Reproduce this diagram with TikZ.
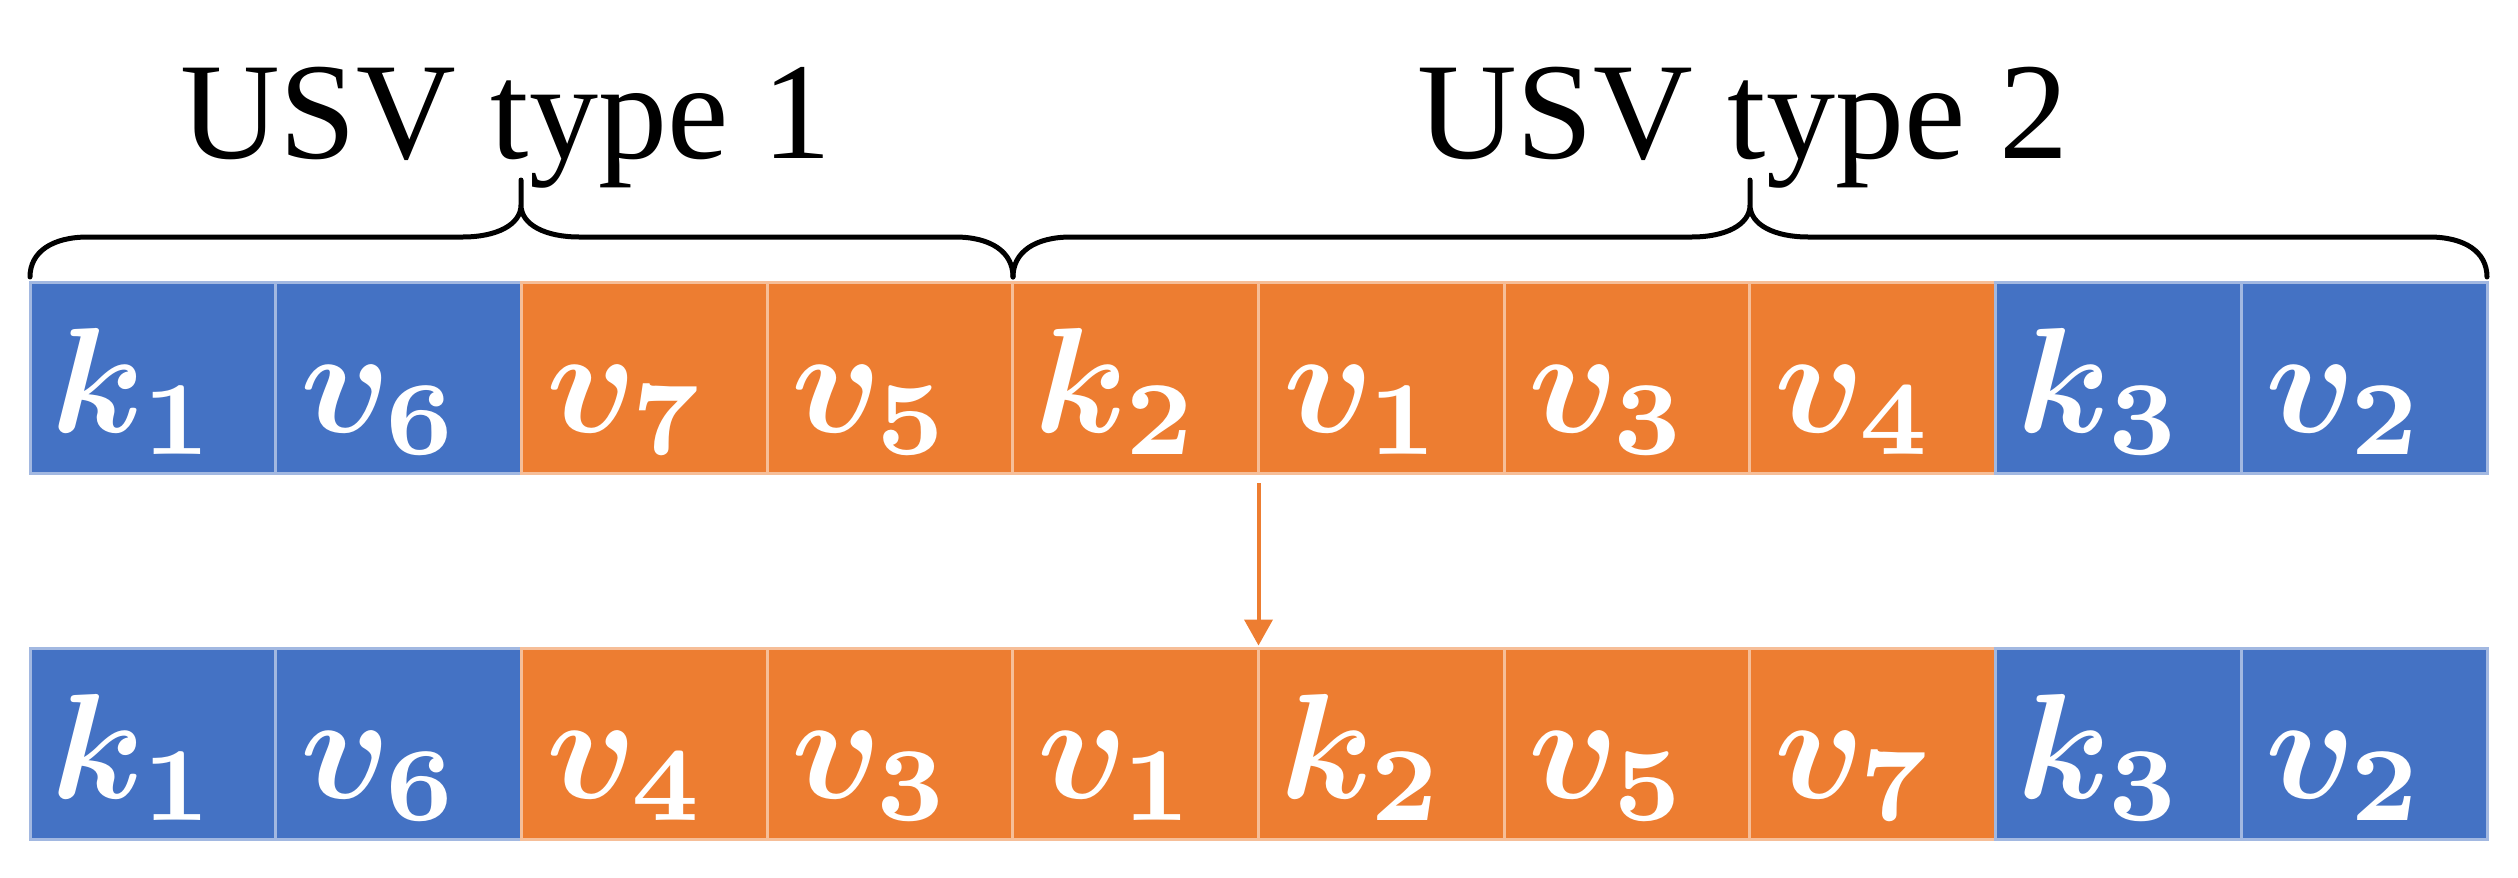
\documentclass[tikz,border=0pt]{standalone}
\usepackage{fontspec}
\setmainfont{Liberation Serif}
\usetikzlibrary{arrows.meta}
\definecolor{cblue}{HTML}{4472C4}
\definecolor{corange}{HTML}{ED7D31}
\newcommand{\biglab}[1]{\scalebox{7.5}{\fontsize{10}{12}\selectfont\boldmath$#1$}}
\tikzset{
  cell/.style={minimum width=122.85pt, minimum height=95.5pt, inner sep=0pt, outer sep=0pt, line width=1.5pt},
  bluecell/.style={cell, fill=cblue, draw=cblue!50!white},
  orangecell/.style={cell, fill=corange, draw=corange!50!white},
  lab/.style={text=white, inner sep=0pt, anchor=base},
  ttl/.style={font=\fontsize{69}{69}\selectfont, inner sep=0pt, anchor=base},
  bracestyle/.style={line width=2.5pt, line join=round, line cap=round},
  arr/.style={draw=corange, line width=2pt, -{Triangle[width=14pt,length=13pt,fill=corange]}}
}
\begin{document}
\begin{tikzpicture}[x=0.5pt,y=-0.5pt]
\useasboundingbox (0,0) rectangle (2518,878);
% top row
\foreach \i/\st/\lbl in {1/bluecell/k_1,2/bluecell/v_6,3/orangecell/v_7,4/orangecell/v_5,5/orangecell/k_2,6/orangecell/v_1,7/orangecell/v_3,8/orangecell/v_4,9/bluecell/k_3,10/bluecell/v_2}{
  \node[\st] (t\i) at ({30+(\i-0.5)*245.7},377.5) {};
  \node[lab] (lt\i) at ({30+(\i-0.5)*245.7-18},432) {\biglab{\lbl}};
}
% bottom row
\foreach \i/\st/\lbl in {1/bluecell/k_1,2/bluecell/v_6,3/orangecell/v_4,4/orangecell/v_3,5/orangecell/v_1,6/orangecell/k_2,7/orangecell/v_5,8/orangecell/v_7,9/bluecell/k_3,10/bluecell/v_2}{
  \node[\st] (b\i) at ({30+(\i-0.5)*245.7},744) {};
  \node[lab] (lb\i) at ({30+(\i-0.5)*245.7-18},798) {\biglab{\lbl}};
}
% braces
\draw[bracestyle] (30,277) .. controls (30,252) and (52,237) .. (88,237) -- (463,237)
  .. controls (496,237) and (521,225) .. (521,205) -- (521,180) -- (521,205)
  .. controls (521,225) and (546,237) .. (579,237) -- (955,237)
  .. controls (991,237) and (1013,252) .. (1013,277);
\draw[bracestyle] (1013,277) .. controls (1013,252) and (1035,237) .. (1071,237) -- (1692,237)
  .. controls (1725,237) and (1750,225) .. (1750,205) -- (1750,180) -- (1750,205)
  .. controls (1750,225) and (1775,237) .. (1808,237) -- (2429,237)
  .. controls (2465,237) and (2487,252) .. (2487,277);
% titles
\node[ttl] (ttl1) at (506,158) {USV type 1};
\node[ttl] (ttl2) at (1743,158) {USV type 2};
% arrow
\draw[arr] ([yshift=-5pt]t5.south east) -- ([yshift=1.5pt]b5.north east);
\end{tikzpicture}
\end{document}
